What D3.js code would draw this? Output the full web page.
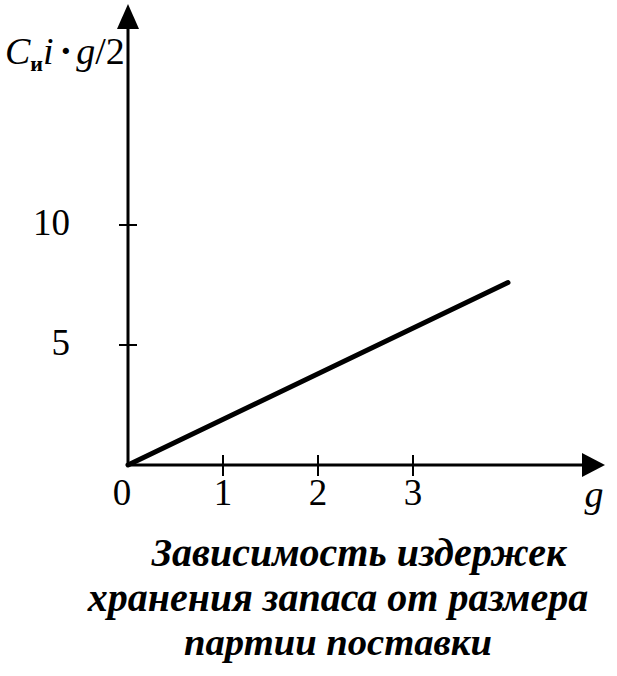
<!DOCTYPE html>
<html><head><meta charset="utf-8">
<script src="https://cdn.jsdelivr.net/npm/d3@7"></script>
<style>html,body{margin:0;padding:0;background:#fff;}svg{display:block;}</style>
</head><body>
<script>
const gValues = [0, 4];
const costValues = [0, 7.6];
const xTickValues = [1, 2, 3];
const xTickLabels = ["1", "2", "3"];
const yTickValues = [5, 10];
const yTickLabels = ["5", "10"];
const titleLines = ["Зависимость издержек", "хранения запаса от размера", "партии поставки"];

const W = 617, H = 676;
const svg = d3.select("body").append("svg").attr("width", W).attr("height", H);
const x = d3.scaleLinear().domain([0, 4]).range([128, 508]);
const y = d3.scaleLinear().domain([0, 10]).range([465, 225]);
const ink = "#000";
const serif = "'Liberation Serif','DejaVu Serif',serif";

// axes
svg.append("line").attr("x1", x(0)).attr("x2", 590).attr("y1", y(0)).attr("y2", y(0))
  .attr("stroke", ink).attr("stroke-width", 3);
svg.append("line").attr("x1", x(0)).attr("x2", x(0)).attr("y1", y(0)).attr("y2", 20)
  .attr("stroke", ink).attr("stroke-width", 3);
// arrowheads
svg.append("polygon").attr("points", `${605},${y(0)} ${582},${y(0)-12} ${582},${y(0)+12}`).attr("fill", ink);
svg.append("polygon").attr("points", `${x(0)},4 ${x(0)-11},29 ${x(0)+11},29`).attr("fill", ink);

// x ticks
svg.selectAll(".xt").data(xTickValues).join("line")
  .attr("x1", d => x(d)).attr("x2", d => x(d)).attr("y1", y(0) - 10).attr("y2", y(0) + 11)
  .attr("stroke", ink).attr("stroke-width", 2);
svg.selectAll(".xl").data(xTickValues).join("text")
  .attr("x", d => x(d)).attr("y", 505).attr("text-anchor", "middle")
  .attr("font-family", serif).attr("font-size", 37).attr("fill", ink)
  .text((d, i) => xTickLabels[i]);
svg.append("text").attr("x", 122).attr("y", 505).attr("text-anchor", "middle")
  .attr("font-family", serif).attr("font-size", 37).attr("fill", ink).text("0");
svg.append("text").attr("x", 594).attr("y", 507).attr("text-anchor", "middle")
  .attr("font-family", serif).attr("font-style", "italic").attr("font-size", 38).attr("fill", ink).text("g");

// y ticks
svg.selectAll(".yt").data(yTickValues).join("line")
  .attr("x1", x(0) - 9).attr("x2", x(0) + 9).attr("y1", d => y(d)).attr("y2", d => y(d))
  .attr("stroke", ink).attr("stroke-width", 2);
svg.selectAll(".yl").data(yTickValues).join("text")
  .attr("x", 70).attr("y", d => y(d) + 10).attr("text-anchor", "end")
  .attr("font-family", serif).attr("font-size", 37).attr("fill", ink)
  .text((d, i) => yTickLabels[i]);

// data line
const line = d3.line().x(d => x(d[0])).y(d => y(d[1]));
svg.append("path").datum(gValues.map((g, i) => [g, costValues[i]]))
  .attr("d", line).attr("fill", "none").attr("stroke", ink).attr("stroke-width", 5)
  .attr("stroke-linecap", "round");

// y label
const yl = svg.append("text").attr("x", 5).attr("y", 64)
  .attr("font-family", serif).attr("font-size", 38).attr("fill", ink);
yl.append("tspan").attr("font-style", "italic").text("C");
yl.append("tspan").attr("font-weight", "bold").attr("font-size", 22).attr("dy", 7).text("и");
yl.append("tspan").attr("font-style", "italic").attr("dy", -7).text("i");
yl.append("tspan").attr("font-weight", "bold").attr("dx", 6).text("·");
yl.append("tspan").attr("font-style", "italic").attr("dx", 4).text("g");
yl.append("tspan").text("/2");

// title: centred lines, font size fitted to the reference widths
const tx = [{cx: 359, w: 422, y: 566}, {cx: 338, w: 504, y: 611}, {cx: 338, w: 308, y: 655}];
const tt = svg.selectAll(".tt").data(titleLines).join("text")
  .attr("x", (d, i) => tx[i].cx).attr("y", (d, i) => tx[i].y).attr("text-anchor", "middle")
  .attr("font-family", serif).attr("font-style", "italic").attr("font-weight", "bold")
  .attr("font-size", 36).attr("fill", ink).text(d => d);
tt.each(function (d, i) {
  const nat = this.getComputedTextLength();
  const fs = Math.min(40, 36 * tx[i].w / nat);
  d3.select(this).attr("font-size", fs);
});
</script>
</body></html>
